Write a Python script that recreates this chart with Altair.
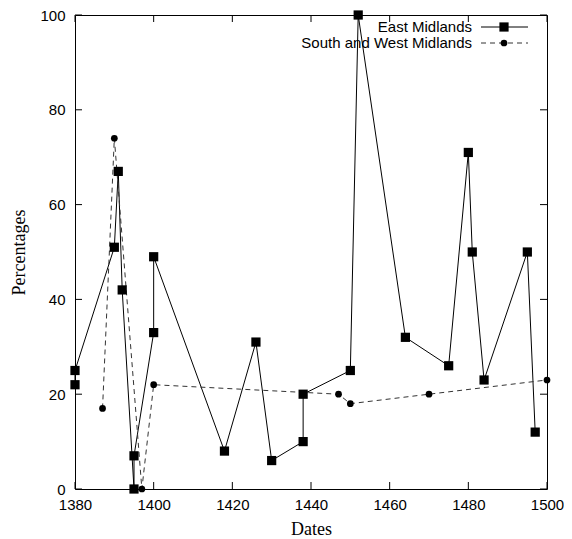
import altair as alt
import pandas as pd

# ---- data ----
east_years = [1380, 1380, 1390, 1391, 1392, 1395, 1395, 1400, 1400, 1418, 1426, 1430,
              1438, 1438, 1450, 1452, 1464, 1475, 1480, 1481, 1484, 1495, 1497]
east_values = [22, 25, 51, 67, 42, 0, 7, 33, 49, 8, 31, 6,
               10, 20, 25, 100, 32, 26, 71, 50, 23, 50, 12]
sw_years = [1387, 1390, 1397, 1400, 1447, 1450, 1470, 1500]
sw_values = [17, 74, 0, 22, 20, 18, 20, 23]
series_names = ["East Midlands", "South and West Midlands"]
x_ticks = [1380, 1400, 1420, 1440, 1460, 1480, 1500]
y_ticks = [0, 20, 40, 60, 80, 100]

W, H = 472, 474
TICK = 7
LABEL_FONT = "Liberation Sans"
TITLE_FONT = "Liberation Serif"

east = pd.DataFrame({"year": east_years, "pct": east_values,
                     "order": list(range(len(east_years)))})
sw = pd.DataFrame({"year": sw_years, "pct": sw_values,
                   "order": list(range(len(sw_years)))})
xt = pd.DataFrame({"v": x_ticks})
yt = pd.DataFrame({"v": y_ticks})

xscale = alt.Scale(domain=[1380, 1500], nice=False, zero=False)
yscale = alt.Scale(domain=[0, 100], nice=False)

X = alt.X("year:Q", scale=xscale,
          axis=alt.Axis(title="Dates", values=x_ticks, ticks=False, domain=False,
                        grid=False, labelPadding=8, titlePadding=8, format="d",
                        labelFlush=False, labelOverlap=False))
Y = alt.Y("pct:Q", scale=yscale,
          axis=alt.Axis(title="Percentages", values=y_ticks, ticks=False, domain=False,
                        grid=False, labelPadding=10, titlePadding=11,
                        labelFlush=False, labelOverlap=False))

east_line = alt.Chart(east).mark_line(color="black", strokeWidth=1).encode(
    x=X, y=Y, order="order:Q")
east_pts = alt.Chart(east).mark_point(shape="square", filled=True, size=85,
                                       color="black", opacity=1).encode(
    x="year:Q", y="pct:Q")
sw_line = alt.Chart(sw).mark_line(color="#333333", strokeWidth=1,
                                  strokeDash=[5, 4]).encode(
    x="year:Q", y="pct:Q", order="order:Q")
sw_pts = alt.Chart(sw).mark_point(shape="circle", filled=True, size=45,
                                   color="black", opacity=1).encode(
    x="year:Q", y="pct:Q")

# inward ticks on all four sides
xt_bottom = alt.Chart(xt).mark_rule(color="black", strokeWidth=1).encode(
    x=alt.X("v:Q", scale=xscale), y=alt.value(H), y2=alt.value(H - TICK))
xt_top = alt.Chart(xt).mark_rule(color="black", strokeWidth=1).encode(
    x=alt.X("v:Q", scale=xscale), y=alt.value(0), y2=alt.value(TICK))
yt_left = alt.Chart(yt).mark_rule(color="black", strokeWidth=1).encode(
    y=alt.Y("v:Q", scale=yscale), x=alt.value(0), x2=alt.value(TICK))
yt_right = alt.Chart(yt).mark_rule(color="black", strokeWidth=1).encode(
    y=alt.Y("v:Q", scale=yscale), x=alt.value(W), x2=alt.value(W - TICK))

# legend (top right, gnuplot style: label then sample)
leg = pd.DataFrame({"name": series_names})
leg_rows = []
row_y = [12, 28]
for i, name in enumerate(series_names):
    d = leg[leg["name"] == name]
    txt = alt.Chart(d).mark_text(align="right", baseline="middle", font=LABEL_FONT,
                                 fontSize=15, color="black").encode(
        text="name:N", x=alt.value(W - 75), y=alt.value(row_y[i]))
    if i == 0:
        ln = alt.Chart(d).mark_rule(color="black", strokeWidth=1).encode(
            x=alt.value(W - 66), x2=alt.value(W - 19), y=alt.value(row_y[i]))
        pt = alt.Chart(d).mark_point(shape="square", filled=True, size=85,
                                     color="black", opacity=1).encode(
            x=alt.value(W - 43), y=alt.value(row_y[i]))
    else:
        ln = alt.Chart(d).mark_rule(color="#333333", strokeWidth=1,
                                    strokeDash=[5, 4]).encode(
            x=alt.value(W - 66), x2=alt.value(W - 19), y=alt.value(row_y[i]))
        pt = alt.Chart(d).mark_point(shape="circle", filled=True, size=45,
                                     color="black", opacity=1).encode(
            x=alt.value(W - 43), y=alt.value(row_y[i]))
    leg_rows += [ln, pt, txt]

chart = alt.layer(
    east_line, sw_line, east_pts, sw_pts,
    xt_bottom, xt_top, yt_left, yt_right, *leg_rows
).properties(
    width=W, height=H,
    background="white",
    autosize=alt.AutoSizeParams(type="none"),
    padding={"left": 67, "top": 7, "right": 17, "bottom": 50},
).configure_view(
    stroke="black", strokeWidth=1
).configure_axis(
    labelFont=LABEL_FONT, labelFontSize=15, labelColor="black",
    titleFont=TITLE_FONT, titleFontSize=18, titleFontWeight="normal",
    titleColor="black"
)

chart.save("out.html", embed_options={"renderer": "svg", "actions": False})
